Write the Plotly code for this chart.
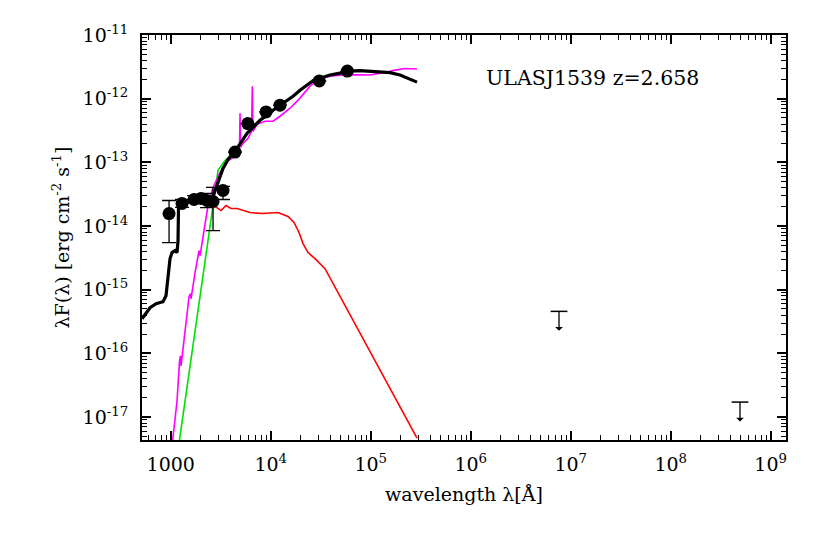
import numpy as np
import plotly.graph_objects as go

# ---- data (rest-frame wavelength [Angstrom], lambda*F_lambda [erg cm^-2 s^-1]) ----
total_wl = [516, 566, 621, 713, 837, 897, 940, 984, 1030, 1104, 1156, 1183, 1197, 1297, 1560,
            1963, 2360, 2649, 2972, 3334, 3741, 4395, 5047, 5794, 6808, 7816, 9183, 10544,
            13274, 16711, 19634, 23067, 27100, 31117, 39174, 49317, 62087, 78163, 98401,
            1.239e5, 1.560e5, 1.963e5, 2.360e5, 2.904e5]
total_f = [3.49e-16, 4.35e-16, 5.21e-16, 6.03e-16, 6.48e-16, 8.05e-16, 1.66e-15, 3.08e-15,
           3.83e-15, 4.11e-15, 3.83e-15, 5.91e-15, 2.10e-14, 2.34e-14, 2.52e-14, 2.66e-14,
           2.71e-14, 2.92e-14, 4.84e-14, 8.05e-14, 1.11e-13, 1.49e-13, 2.06e-13, 2.86e-13,
           3.69e-13, 4.58e-13, 5.50e-13, 6.59e-13, 8.49e-13, 1.09e-12, 1.36e-12, 1.63e-12,
           1.96e-12, 2.10e-12, 2.35e-12, 2.52e-12, 2.71e-12, 2.76e-12, 2.71e-12, 2.66e-12,
           2.57e-12, 2.35e-12, 2.10e-12, 1.82e-12]

galaxy_wl = [1030, 1156, 1225, 1253, 1268, 1390, 1524, 1578, 1596, 1750, 1875, 1919, 1963,
             2153, 2360, 2649, 3112, 3573, 4102, 4710, 4875, 4932, 4989, 5284, 5929, 6427,
             6546, 6653, 7295, 8770, 10544, 12388, 15596, 19634, 24717, 31117, 39174, 55335,
             78163, 98401, 1.390e5, 1.750e5, 2.203e5, 2.904e5]
galaxy_f = [3.49e-18, 1.79e-17, 7.62e-17, 9.14e-17, 6.35e-17, 2.26e-16, 7.76e-16, 8.65e-16,
            7.21e-16, 1.85e-15, 3.83e-15, 4.11e-15, 3.43e-15, 8.49e-15, 2.10e-14, 4.04e-14,
            6.97e-14, 1.00e-13, 1.16e-13, 1.66e-13, 1.72e-13, 5.91e-13, 1.72e-13, 1.99e-13,
            2.39e-13, 3.08e-13, 1.57e-12, 3.08e-13, 3.96e-13, 4.42e-13, 4.42e-13, 5.30e-13,
            7.08e-13, 1.02e-12, 1.57e-12, 2.03e-12, 2.26e-12, 2.39e-12, 2.35e-12, 2.35e-12,
            2.57e-12, 2.81e-12, 2.97e-12, 2.92e-12]

stellar_wl = [1211, 1919, 2972, 3491, 4295]
stellar_f = [3.90e-18, 6.71e-16, 7.48e-14, 1.07e-13, 1.44e-13]

agn_wl = [2529, 2773, 3184, 3573, 4009, 4603, 6209, 8185, 11830, 14894, 17100, 19187,
          21038, 23605, 27733, 34914, 2.904e5]
agn_f = [2.26e-14, 2.03e-14, 1.75e-14, 2.10e-14, 1.89e-14, 1.89e-14, 1.63e-14, 1.57e-14,
         1.63e-14, 1.41e-14, 1.14e-14, 7.91e-15, 5.30e-15, 3.83e-15, 3.08e-15, 2.14e-15, 4.67e-18]

phot_wl = [962, 1297, 1710, 2009, 2307, 2649, 3334, 4395, 5890, 8980, 12390, 30600, 58400]
phot_f = [1.57e-14, 2.26e-14, 2.61e-14, 2.71e-14, 2.52e-14, 2.43e-14, 3.62e-14, 1.45e-13,
          4.07e-13, 6.2e-13, 7.9e-13, 1.9e-12, 2.71e-12]
phot_hi = [2.52e-14, 2.61e-14, 3.0e-14, 3.0e-14, 3.25e-14, 4.04e-14, 4.19e-14, 1.45e-13,
           4.07e-13, 6.2e-13, 7.9e-13, 1.9e-12, 2.71e-12]
phot_lo = [5.50e-15, 1.96e-14, 2.3e-14, 2.45e-14, 1.95e-14, 8.49e-15, 2.61e-14, 1.45e-13,
           4.07e-13, 6.2e-13, 7.9e-13, 1.9e-12, 2.71e-12]

ulim_wl = [7.64e6, 4.93e8]
ulim_f = [4.57e-16, 1.72e-17]

x_tickvals = [1e3, 1e4, 1e5, 1e6, 1e7, 1e8, 1e9]
x_ticktext = ["1000", "10<sup>4</sup>", "10<sup>5</sup>", "10<sup>6</sup>",
              "10<sup>7</sup>", "10<sup>8</sup>", "10<sup>9</sup>"]
y_tickvals = [1e-17, 1e-16, 1e-15, 1e-14, 1e-13, 1e-12, 1e-11]
y_ticktext = ["10<sup>-17</sup>", "10<sup>-16</sup>", "10<sup>-15</sup>", "10<sup>-14</sup>",
              "10<sup>-13</sup>", "10<sup>-12</sup>", "10<sup>-11</sup>"]

label = "ULASJ1539 z=2.658"

FONT = "DejaVu Serif"

fig = go.Figure()
fig.add_trace(go.Scatter(x=agn_wl, y=agn_f, mode="lines", line=dict(color="#ff0000", width=1.6)))
fig.add_trace(go.Scatter(x=stellar_wl, y=stellar_f, mode="lines", line=dict(color="#00e000", width=1.6)))
fig.add_trace(go.Scatter(x=galaxy_wl, y=galaxy_f, mode="lines", line=dict(color="#ff00ff", width=1.6)))
fig.add_trace(go.Scatter(x=total_wl, y=total_f, mode="lines", line=dict(color="black", width=3.2)))

err_plus = [h - f for h, f in zip(phot_hi, phot_f)]
err_minus = [f - l for f, l in zip(phot_f, phot_lo)]
fig.add_trace(go.Scatter(
    x=phot_wl, y=phot_f, mode="markers",
    marker=dict(color="black", size=13),
    error_y=dict(type="data", symmetric=False, array=err_plus, arrayminus=err_minus,
                 color="black", thickness=1.3, width=7)))

fig.add_trace(go.Scatter(x=ulim_wl, y=ulim_f, mode="markers",
                         marker=dict(symbol="line-ew", size=12,
                                     line=dict(color="black", width=1.5))))
for wl, f in zip(ulim_wl, ulim_f):
    fig.add_annotation(x=np.log10(wl), y=np.log10(f), xref="x", yref="y", text="",
                       showarrow=True, ax=0, ay=21, arrowside="start", arrowhead=4,
                       arrowsize=1.7, arrowwidth=1.3, arrowcolor="black")

fig.add_annotation(x=0.699, y=0.894, xref="paper", yref="paper", text=label,
                   showarrow=False, font=dict(family=FONT, size=20.5, color="black"),
                   xanchor="center", yanchor="middle")

axis_common = dict(showline=True, linecolor="black", linewidth=2, mirror="ticks",
                   ticks="inside", ticklen=9, tickwidth=1.5, tickcolor="black",
                   showgrid=False, zeroline=False, automargin=False,
                   tickfont=dict(family=FONT, size=19, color="black"),
                   minor=dict(ticks="inside", ticklen=5, tickwidth=1.3, tickcolor="black",
                              dtick="D1", showgrid=False))

fig.update_xaxes(type="log", range=[np.log10(516), 9.153], tickmode="array",
                 tickvals=x_tickvals, ticktext=x_ticktext,
                 title=dict(text="wavelength λ[Å]", font=dict(family=FONT, size=19, color="black"),
                            standoff=14),
                 ticklabelstandoff=6, **axis_common)
fig.update_yaxes(type="log", range=[-17.36, -11.0], tickmode="array",
                 tickvals=y_tickvals, ticktext=y_ticktext,
                 title=dict(text="λF(λ) [erg cm<sup>-2</sup> s<sup>-1</sup>]",
                            font=dict(family=FONT, size=19, color="black"), standoff=8),
                 ticklabelstandoff=8, **axis_common)

# page body has an 8px default margin, so the figure is made 8px smaller on each axis
fig.update_layout(width=822, height=533, showlegend=False,
                  plot_bgcolor="white", paper_bgcolor="white",
                  margin=dict(l=134, r=44, t=27, b=101))

fig.write_html("out.html")
